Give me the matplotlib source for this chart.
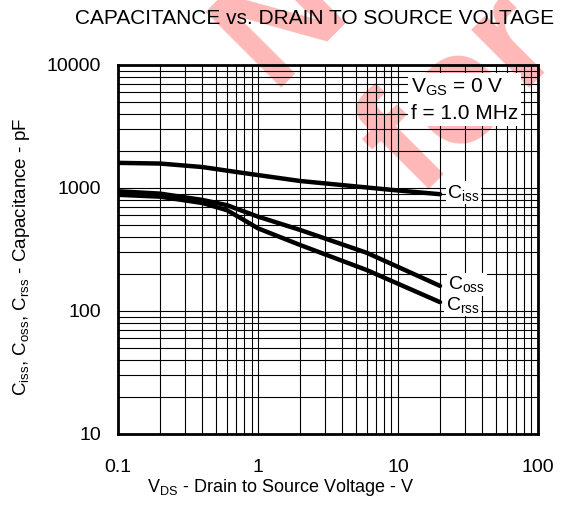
import matplotlib
matplotlib.use("Agg")
import matplotlib.pyplot as plt
from matplotlib.ticker import LogLocator, NullFormatter, FixedLocator, FixedFormatter

plt.rcParams['font.family'] = ['Liberation Sans', 'DejaVu Sans']
plt.rcParams['mathtext.fontset'] = 'custom'
plt.rcParams['mathtext.rm'] = 'Liberation Sans'
plt.rcParams['mathtext.it'] = 'Liberation Sans'

# data
ciss_v = [0.1, 0.2, 0.4, 0.8, 2.0, 5.0, 9.0, 20]
ciss = [1600, 1580, 1480, 1320, 1140, 1030, 965, 890]

coss_v = [0.1, 0.2, 0.4, 0.6, 1.0, 2.0, 6.0, 20]
coss = [940, 900, 800, 725, 585, 456, 297, 160]

crss_v = [0.1, 0.2, 0.4, 0.6, 0.75, 1.0, 2.0, 6.0, 20]
crss = [880, 850, 755, 660, 570, 470, 344, 215, 118]

xticks = [0.1, 1, 10, 100]
xlabels = ['0.1', '1', '10', '100']
yticks = [10, 100, 1000, 10000]
ylabels = ['10', '100', '1000', '10000']

fig = plt.figure(figsize=(5.62, 5.19), dpi=100)
ax = fig.add_axes([0.21, 0.1638, 0.747, 0.711])
ax.set_facecolor('none')

# watermark behind everything
wm = dict(color='#ffb8b8', fontsize=112, fontweight='bold', rotation=45,
          rotation_mode='anchor', ha='left', va='baseline', zorder=-5)
fig.text(275 / 562, 1 - 95 / 519, 'Not Recommended', **wm)
fig.text(419 / 562, 1 - 199 / 519, 'for New Design', **wm)

ax.set_xscale('log')
ax.set_yscale('log')
ax.set_xlim(0.1, 100)
ax.set_ylim(10, 10000)

ax.xaxis.set_major_locator(FixedLocator(xticks))
ax.xaxis.set_major_formatter(FixedFormatter(xlabels))
ax.yaxis.set_major_locator(FixedLocator(yticks))
ax.yaxis.set_major_formatter(FixedFormatter(ylabels))
for a in (ax.xaxis, ax.yaxis):
    a.set_minor_locator(LogLocator(base=10, subs=range(2, 10), numticks=20))
    a.set_minor_formatter(NullFormatter())

ax.grid(True, which='both', color='black', linewidth=0.8, zorder=1)
ax.tick_params(which='both', length=0)
ax.tick_params(axis='x', pad=18, labelsize=14)
ax.tick_params(axis='y', pad=12, labelsize=14)
for s in ax.spines.values():
    s.set_linewidth(2.0)
    s.set_zorder(5)

ax.plot(ciss_v, ciss, color='black', linewidth=3.2, zorder=3, solid_capstyle='round')
ax.plot(coss_v, coss, color='black', linewidth=3.2, zorder=3, solid_capstyle='round')
ax.plot(crss_v, crss, color='black', linewidth=3.2, zorder=3, solid_capstyle='round')

box = dict(facecolor='white', edgecolor='none', pad=1)
ax.annotate(r'C$_{\mathrm{iss}}$', xy=(ciss_v[-1], ciss[-1]), xytext=(5, 1),
            textcoords='offset points', ha='left', va='center', fontsize=14,
            bbox=box, zorder=4)
ax.annotate(r'C$_{\mathrm{oss}}$', xy=(coss_v[-1], coss[-1]), xytext=(6, 1),
            textcoords='offset points', ha='left', va='center', fontsize=14,
            bbox=box, zorder=4)
ax.annotate(r'C$_{\mathrm{rss}}$', xy=(crss_v[-1], crss[-1]), xytext=(4, -2),
            textcoords='offset points', ha='left', va='center', fontsize=14,
            bbox=box, zorder=4)

ax.text(0.697, 0.905, 'V$_{\\mathrm{GS}}$ = 0 V\nf = 1.0 MHz', transform=ax.transAxes,
        ha='left', va='center', fontsize=15, linespacing=1.43,
        bbox=dict(facecolor='white', edgecolor='none', pad=2), zorder=4)

fig.text(0.56, 0.965, 'CAPACITANCE vs. DRAIN TO SOURCE VOLTAGE', ha='center',
         va='center', fontsize=15)
fig.text(0.5, 0.06, 'V$_{\\mathrm{DS}}$ - Drain to Source Voltage - V', ha='center',
         va='center', fontsize=13)
fig.text(0.039, 0.505,
         'C$_{\\mathrm{iss}}$, C$_{\\mathrm{oss}}$, C$_{\\mathrm{rss}}$ - Capacitance - pF',
         ha='center', va='center', rotation=90, fontsize=13.5)

fig.savefig('out.png', dpi=100)
